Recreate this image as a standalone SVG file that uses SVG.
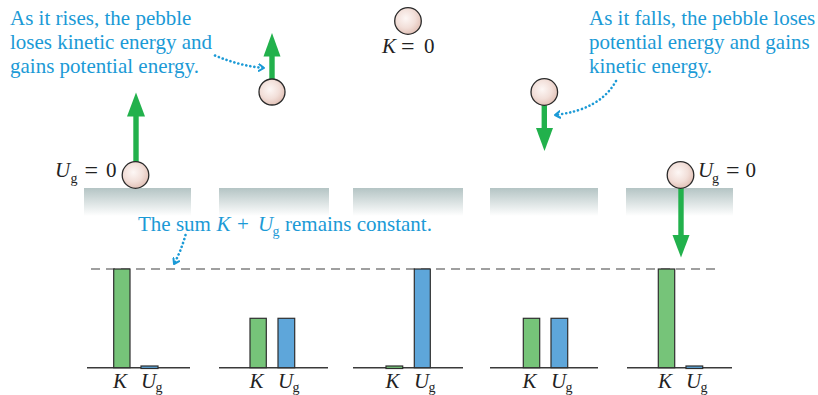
<svg xmlns="http://www.w3.org/2000/svg" width="818" height="395" viewBox="0 0 818 395">
<defs>
<radialGradient id="peb" cx="0.42" cy="0.4" r="0.6">
<stop offset="0" stop-color="#fdf7f5"/>
<stop offset="0.6" stop-color="#f2dfd9"/>
<stop offset="1" stop-color="#e3c3b9"/>
</radialGradient>
<linearGradient id="slab" x1="0" y1="0" x2="0" y2="1">
<stop offset="0" stop-color="#b4c4c4"/>
<stop offset="1" stop-color="#ffffff"/>
</linearGradient>
<marker id="chev" viewBox="0 0 10 10" refX="7" refY="5" markerWidth="3.2" markerHeight="3.2" orient="auto" markerUnits="strokeWidth">
<path d="M1,1 L7,5 L1,9" fill="none" stroke="#1b9ad6" stroke-width="2.4" stroke-linecap="round" stroke-linejoin="round"/>
</marker>
</defs>
<style>
.blue{font-family:"Liberation Serif","Times New Roman",serif;font-size:21px;fill:#1b9ad6}
.lbl{font-family:"Liberation Serif","Times New Roman",serif;font-size:21px;fill:#222}
.eq{font-size:24px}
.it{font-style:italic}
.sub{font-family:"Liberation Serif","Times New Roman",serif;font-size:14px;fill:#222}
.peb{fill:url(#peb);stroke:#2a2a2a;stroke-width:1.3}
.arrow{fill:#22b14c}
.slab{fill:url(#slab)}
.base{stroke:#3a3a3a;stroke-width:1.4}
.kbar{fill:#76c479;stroke:#2e2e2e;stroke-width:1.2}
.ubar{fill:#5ea6da;stroke:#2e2e2e;stroke-width:1.2}
.dots{fill:none;stroke:#1b9ad6;stroke-width:2.6;stroke-dasharray:0.1 4;stroke-linecap:round}
</style>

<g id="ground">
<rect class="slab" x="84" y="188" width="107" height="28"/>
<rect class="slab" x="219" y="188" width="110" height="28"/>
<rect class="slab" x="353" y="188" width="110" height="28"/>
<rect class="slab" x="490" y="188" width="108" height="28"/>
<rect class="slab" x="626" y="188" width="107" height="28"/>
</g>

<g id="pebble1">
<rect class="arrow" x="133.3" y="114" width="5.4" height="50"/>
<polygon class="arrow" points="127,116.5 145,116.5 136,92.5"/>
<circle class="peb" cx="135.5" cy="175" r="13.3"/>
<text class="lbl it" x="55" y="177">U</text>
<text class="sub" x="70.5" y="183">g</text>
<text class="lbl eq" x="84.5" y="178">=</text>
<text class="lbl" x="106" y="177">0</text>
</g>

<g id="pebble2">
<rect class="arrow" x="269.3" y="54" width="5.4" height="28"/>
<polygon class="arrow" points="263.5,56.5 280.5,56.5 272,33"/>
<circle class="peb" cx="272" cy="92" r="13"/>
</g>

<g id="pebble3">
<circle class="peb" cx="408" cy="21" r="13.3"/>
<text class="lbl it" x="382" y="53">K</text>
<text class="lbl eq" x="401" y="54">=</text>
<text class="lbl" x="424" y="53">0</text>
</g>

<g id="pebble4">
<rect class="arrow" x="541.6" y="103" width="5.4" height="27"/>
<polygon class="arrow" points="536,128 553,128 544.5,151"/>
<circle class="peb" cx="544.3" cy="92" r="13.3"/>
</g>

<g id="pebble5">
<rect class="arrow" x="678.3" y="185" width="5.4" height="52"/>
<polygon class="arrow" points="672.5,235 689.5,235 681,257.5"/>
<circle class="peb" cx="680.5" cy="175" r="13.3"/>
<text class="lbl it" x="698" y="177">U</text>
<text class="sub" x="712" y="183">g</text>
<text class="lbl eq" x="726" y="178">=</text>
<text class="lbl" x="745.5" y="177">0</text>
</g>

<g id="captions">
<text class="blue" x="10" y="25">As it rises, the pebble</text>
<text class="blue" x="10" y="49">loses kinetic energy and</text>
<text class="blue" x="10" y="72.5">gains potential energy.</text>
<text class="blue" x="589" y="25">As it falls, the pebble loses</text>
<text class="blue" x="589" y="49">potential energy and gains</text>
<text class="blue" x="589" y="72.5">kinetic energy.</text>
<text class="blue" x="138" y="231">The sum <tspan class="it" x="216.5">K</tspan><tspan x="237">+</tspan><tspan class="it" x="258">U</tspan><tspan font-size="14" x="272.5" dy="5">g</tspan><tspan x="285" dy="-5">remains constant.</tspan></text>
</g>

<g id="connectors">
<path class="dots" d="M215,55.5 Q240,66 264,68" marker-end="url(#chev)"/>
<path class="dots" d="M616,81 Q600,110 555,115" marker-end="url(#chev)"/>
<path class="dots" d="M185.5,235 Q181,251 174,264" marker-end="url(#chev)"/>
</g>

<g id="chart">
<line x1="91" y1="269" x2="718" y2="269" stroke="#808080" stroke-width="1.6" stroke-dasharray="9 6"/>
<line class="base" x1="87" y1="367.7" x2="190" y2="367.7"/>
<line class="base" x1="219" y1="367.7" x2="328" y2="367.7"/>
<line class="base" x1="353" y1="367.7" x2="463" y2="367.7"/>
<line class="base" x1="490" y1="367.7" x2="598" y2="367.7"/>
<line class="base" x1="627" y1="367.7" x2="732" y2="367.7"/>

<rect class="kbar" x="113.7" y="269" width="16.3" height="98.7"/>
<rect class="ubar" x="141" y="366" width="17" height="2.5"/>
<rect class="kbar" x="250" y="318.3" width="16.3" height="49.4"/>
<rect class="ubar" x="278" y="318.3" width="16.7" height="49.4"/>
<rect class="kbar" x="386" y="366" width="16.7" height="2.5"/>
<rect class="ubar" x="414.3" y="269" width="16" height="98.7"/>
<rect class="kbar" x="523.3" y="318.3" width="16.4" height="49.4"/>
<rect class="ubar" x="551" y="318.3" width="16.7" height="49.4"/>
<rect class="kbar" x="658.3" y="269" width="16.4" height="98.7"/>
<rect class="ubar" x="686" y="366" width="16.7" height="2.5"/>

<text class="lbl it" x="113" y="388">K</text>
<text class="lbl it" x="141" y="388">U</text>
<text class="sub" x="155.5" y="391.5">g</text>
<text class="lbl it" x="249.5" y="388">K</text>
<text class="lbl it" x="278" y="388">U</text>
<text class="sub" x="292.5" y="391.5">g</text>
<text class="lbl it" x="385.5" y="388">K</text>
<text class="lbl it" x="414" y="388">U</text>
<text class="sub" x="428.5" y="391.5">g</text>
<text class="lbl it" x="522.5" y="388">K</text>
<text class="lbl it" x="551" y="388">U</text>
<text class="sub" x="565.5" y="391.5">g</text>
<text class="lbl it" x="658" y="388">K</text>
<text class="lbl it" x="686" y="388">U</text>
<text class="sub" x="700.5" y="391.5">g</text>
</g>
</svg>
